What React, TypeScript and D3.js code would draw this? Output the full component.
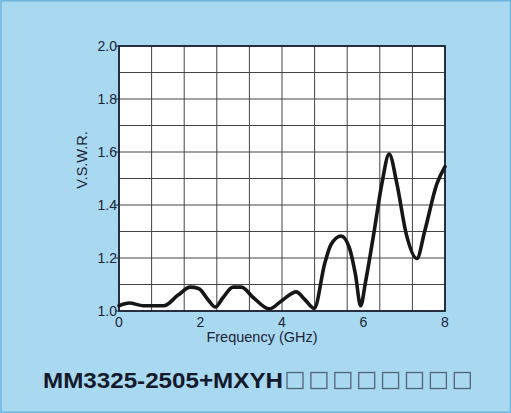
import React from "react";
import * as d3 from "d3";

const freqs = [0, 0.25, 0.6, 1.1, 1.45, 1.75, 1.95, 2.2, 2.36, 2.55, 2.8, 3.0, 3.3, 3.69, 4.0, 4.35, 4.55, 4.79, 5.05, 5.2, 5.45, 5.65, 5.8, 5.93, 6.05, 6.25, 6.45, 6.63, 6.82, 7.05, 7.31, 7.5, 7.8, 8.0];
const vswr = [1.02, 1.03, 1.02, 1.02, 1.06, 1.09, 1.085, 1.04, 1.015, 1.05, 1.09, 1.09, 1.05, 1.008, 1.04, 1.072, 1.045, 1.01, 1.18, 1.25, 1.283, 1.24, 1.14, 1.02, 1.11, 1.29, 1.48, 1.592, 1.48, 1.29, 1.198, 1.3, 1.48, 1.545];
const xTicks = [0, 2, 4, 6, 8];
const yTicks = [1.0, 1.2, 1.4, 1.6, 1.8, 2.0];
const xGrid = d3.range(0, 11).map((i) => i * 0.8);
const yGrid = d3.range(0, 11).map((i) => 1 + i * 0.1);
const partNumber = "MM3325-2505+MXYH";
const boxCount = 8;

export default function App() {
  const W = 511, H = 413;
  const x = d3.scaleLinear().domain([0, 8]).range([119, 445]);
  const y = d3.scaleLinear().domain([1, 2]).range([311, 46]);
  const line = d3
    .line<number>()
    .x((_, i) => x(freqs[i]))
    .y((d) => y(d))
    .curve(d3.curveMonotoneX);
  const ink = "#1c2438";
  const font = "'Liberation Sans', Arial, Helvetica, sans-serif";
  return (
    <svg width={W} height={H} style={{ position: "absolute", left: 0, top: 0 }}>
      <rect x={0} y={0} width={W} height={H} fill="#a9d9f0" />
      <rect x={1} y={0.75} width={W - 1.5} height={H - 1.5} fill="none" stroke="#6db6de" strokeWidth={1.5} />
      <rect x={x(0)} y={y(2)} width={x(8) - x(0)} height={y(1) - y(2)} fill="#ffffff" />
      {xGrid.map((g, i) => (
        <line key={"xg" + i} x1={x(g)} x2={x(g)} y1={y(1)} y2={y(2)} stroke="#444" strokeWidth={1} />
      ))}
      {yGrid.map((g, i) => (
        <line key={"yg" + i} x1={x(0)} x2={x(8)} y1={y(g)} y2={y(g)} stroke="#444" strokeWidth={1} />
      ))}
      <rect x={x(0)} y={y(2)} width={x(8) - x(0)} height={y(1) - y(2)} fill="none" stroke={ink} strokeWidth={1.8} />
      {yTicks.map((t) => (
        <g key={"yt" + t}>
          <line x1={x(0) - 4} x2={x(0)} y1={y(t)} y2={y(t)} stroke={ink} strokeWidth={1} />
          <text x={x(0) - 2} y={y(t)} dy="0.36em" textAnchor="end" fontFamily={font} fontSize={14} fill={ink}>
            {t.toFixed(1)}
          </text>
        </g>
      ))}
      {xTicks.map((t) => (
        <text key={"xt" + t} x={x(t)} y={y(1) + 16} textAnchor="middle" fontFamily={font} fontSize={14} fill={ink}>
          {t}
        </text>
      ))}
      <text x={262} y={342} textAnchor="middle" fontFamily={font} fontSize={14.5} fill={ink}>
        Frequency (GHz)
      </text>
      <text transform={`translate(87,${160}) rotate(-90)`} textAnchor="middle" fontFamily={font} fontSize={14.5} fill={ink}>
        V.S.W.R.
      </text>
      <path d={line(vswr) || ""} fill="none" stroke="#161616" strokeWidth={3.6} strokeLinejoin="round" strokeLinecap="round" />
      <text x={43} y={388} fontFamily={font} fontWeight="bold" fontSize={22} fill="#141a2c" textLength={240} lengthAdjust="spacingAndGlyphs">
        {partNumber}
      </text>
      {d3.range(boxCount).map((i) => (
        <rect key={"b" + i} x={287 + i * 23.9} y={372.5} width={16} height={16} fill="none" stroke="#53637a" strokeWidth={1.3} />
      ))}
    </svg>
  );
}
